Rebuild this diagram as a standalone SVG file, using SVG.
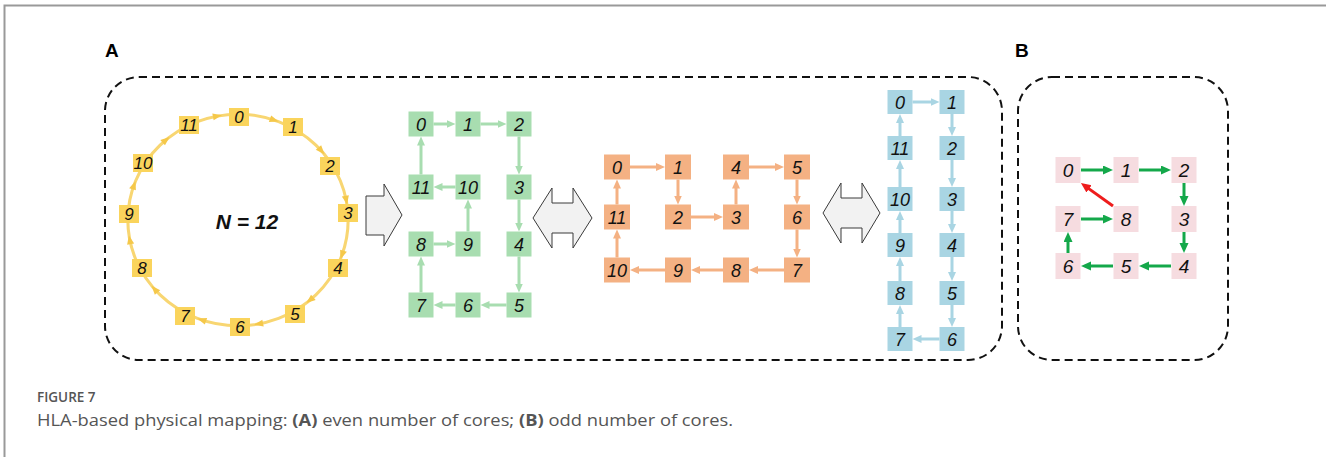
<svg xmlns="http://www.w3.org/2000/svg" width="1326" height="457" viewBox="0 0 1326 457">
  <style>
    .lbl { font-family: "Liberation Sans", Arial, sans-serif; font-style: italic; fill: #111; text-anchor: middle; }
    .ly { font-size: 17px; }
    .lm { font-size: 18px; }
    .lb { font-size: 19px; }
    .ny { fill: #FAD45C; }
    .ng { fill: #A8DDB0; }
    .no { fill: #F4B183; }
    .nb { fill: #A9D5E3; }
    .np { fill: #F6DCE0; }
    .cg { stroke: #A8DDB0; stroke-width: 3; fill: none; marker-end: url(#hg); }
    .co { stroke: #F4B183; stroke-width: 3; fill: none; marker-end: url(#ho); }
    .cb { stroke: #A9D5E3; stroke-width: 3; fill: none; marker-end: url(#hb); }
    .cG { stroke: #14A84A; stroke-width: 3; fill: none; marker-end: url(#hG); }
    .cR { stroke: #EE1C1C; stroke-width: 3; fill: none; marker-end: url(#hR); }
    .frame { fill: none; stroke: #111; stroke-width: 2; stroke-dasharray: 8 5; }
    .big { fill: #F2F2F2; stroke: #3A3A3A; stroke-width: 1; }
    .panel { font-family: "Liberation Sans", Arial, sans-serif; font-weight: bold; font-size: 19px; fill: #000; }
    .cap { font-family: "Open Sans", "Liberation Sans", sans-serif; fill: #555; }
  </style>
  <defs>
    <marker id="hg" markerUnits="userSpaceOnUse" markerWidth="10" markerHeight="10" refX="3" refY="4" orient="auto"><path d="M0,0 L9,4 L0,8 z" fill="#A8DDB0"/></marker>
    <marker id="ho" markerUnits="userSpaceOnUse" markerWidth="10" markerHeight="10" refX="3" refY="4" orient="auto"><path d="M0,0 L9,4 L0,8 z" fill="#F4B183"/></marker>
    <marker id="hb" markerUnits="userSpaceOnUse" markerWidth="10" markerHeight="10" refX="3" refY="4" orient="auto"><path d="M0,0 L9,4 L0,8 z" fill="#A9D5E3"/></marker>
    <marker id="hG" markerUnits="userSpaceOnUse" markerWidth="12" markerHeight="12" refX="3" refY="4.5" orient="auto"><path d="M0,0 L10,4.5 L0,9 z" fill="#14A84A"/></marker>
    <marker id="hR" markerUnits="userSpaceOnUse" markerWidth="12" markerHeight="12" refX="3" refY="4.5" orient="auto"><path d="M0,0 L10,4.5 L0,9 z" fill="#EE1C1C"/></marker>
  </defs>

  <rect width="1326" height="457" fill="#fff"/>
  <!-- page rule -->
  <path d="M4.5,457 V5.5 H1326" fill="none" stroke="#999" stroke-width="2"/>

  <!-- panel frames -->
  <text class="panel" x="105" y="57">A</text>
  <text class="panel" x="1015" y="57">B</text>
  <rect class="frame" x="105" y="77" width="897" height="283" rx="34" ry="34"/>
  <rect class="frame" x="1018" y="77" width="210" height="283" rx="34" ry="34"/>

  <!-- transition arrows -->
  <g id="step-arrows">
    <polygon class="big" points="366,196 384,196 384,184 402,215 384,246 384,235 366,235"/>
    <polygon class="big" points="533,218 552,188 552,203 573,203 573,188 592,218 573,248 573,233 552,233 552,248"/>
    <polygon class="big" points="823,213 841,183 841,198 862,198 862,183 880,213 862,243 862,228 841,228 841,243"/>
  </g>

  <!-- connectors -->
  <g id="connectors">
    <g id="ring-links" transform="translate(238,220) scale(1.02,0.98)" fill="#F5C84A">
      <circle r="108" fill="none" stroke="#F8D672" stroke-width="3"/>
      <polygon points="5,0 -4,-3.5 -4,3.5" transform="rotate(19) translate(0,-108)"/>
      <polygon points="5,0 -4,-3.5 -4,3.5" transform="rotate(49) translate(0,-108)"/>
      <polygon points="5,0 -4,-3.5 -4,3.5" transform="rotate(79) translate(0,-108)"/>
      <polygon points="5,0 -4,-3.5 -4,3.5" transform="rotate(109) translate(0,-108)"/>
      <polygon points="5,0 -4,-3.5 -4,3.5" transform="rotate(139) translate(0,-108)"/>
      <polygon points="5,0 -4,-3.5 -4,3.5" transform="rotate(169) translate(0,-108)"/>
      <polygon points="5,0 -4,-3.5 -4,3.5" transform="rotate(199) translate(0,-108)"/>
      <polygon points="5,0 -4,-3.5 -4,3.5" transform="rotate(229) translate(0,-108)"/>
      <polygon points="5,0 -4,-3.5 -4,3.5" transform="rotate(259) translate(0,-108)"/>
      <polygon points="5,0 -4,-3.5 -4,3.5" transform="rotate(289) translate(0,-108)"/>
      <polygon points="5,0 -4,-3.5 -4,3.5" transform="rotate(319) translate(0,-108)"/>
      <polygon points="5,0 -4,-3.5 -4,3.5" transform="rotate(349) translate(0,-108)"/>
    </g>
    <g id="grid-links">
      <path class="cg" d="M433.5,124 H449.5"/>
      <path class="cg" d="M480.5,124 H500.5"/>
      <path class="cg" d="M519,136.5 V168.5"/>
      <path class="cg" d="M519,199.5 V225.5"/>
      <path class="cg" d="M519,256.5 V286.5"/>
      <path class="cg" d="M506.5,305 H486.5"/>
      <path class="cg" d="M455.5,305 H439.5"/>
      <path class="cg" d="M421,292.5 V262.5"/>
      <path class="cg" d="M433.5,244 H449.5"/>
      <path class="cg" d="M468,231.5 V205.5"/>
      <path class="cg" d="M455.5,187 H439.5"/>
      <path class="cg" d="M421,174.5 V142.5"/>
    </g>
    <g id="snake-links">
      <path class="co" d="M630,167 H659"/>
      <path class="co" d="M678,179.5 V198.5"/>
      <path class="co" d="M691,217 H717"/>
      <path class="co" d="M736,204.5 V185.5"/>
      <path class="co" d="M749,167 H778"/>
      <path class="co" d="M797,179.5 V198.5"/>
      <path class="co" d="M797,229.5 V251.5"/>
      <path class="co" d="M784,270 H755"/>
      <path class="co" d="M723,270 H697"/>
      <path class="co" d="M665,270 H636"/>
      <path class="co" d="M617,257.5 V235.5"/>
      <path class="co" d="M617,204.5 V185.5"/>
    </g>
    <g id="column-links">
      <path class="cb" d="M912.5,102 H933.5"/>
      <path class="cb" d="M952,114 V130"/>
      <path class="cb" d="M952,160 V181"/>
      <path class="cb" d="M952,211 V227"/>
      <path class="cb" d="M952,257 V275"/>
      <path class="cb" d="M952,305 V321"/>
      <path class="cb" d="M939.5,339 H918.5"/>
      <path class="cb" d="M900,327 V311"/>
      <path class="cb" d="M900,281 V263"/>
      <path class="cb" d="M900,233 V217"/>
      <path class="cb" d="M900,187 V166"/>
      <path class="cb" d="M900,136 V120"/>
    </g>
    <g id="odd-links">
      <path class="cG" d="M1081,170 H1106"/>
      <path class="cG" d="M1139,170 H1164"/>
      <path class="cG" d="M1184,183 V199"/>
      <path class="cG" d="M1184,232 V246"/>
      <path class="cG" d="M1171,266 H1146"/>
      <path class="cG" d="M1113,266 H1088"/>
      <path class="cG" d="M1068,253 V239"/>
      <path class="cG" d="M1081,219 H1106"/>
      <path class="cR" d="M1113,206 L1086.6,187.1"/>
    </g>
  </g>

  <!-- ring of 12 cores -->
  <text x="247" y="229" font-family="Liberation Sans, Arial, sans-serif" font-size="21" font-weight="bold" font-style="italic" text-anchor="middle" fill="#111">N = 12</text>
  <g id="ring-0"><rect class="ny" x="229" y="108" width="20" height="18"/><text class="lbl ly" x="239" y="123">0</text></g>
  <g id="ring-1"><rect class="ny" x="283" y="118" width="20" height="18"/><text class="lbl ly" x="293" y="133">1</text></g>
  <g id="ring-2"><rect class="ny" x="320" y="157" width="20" height="18"/><text class="lbl ly" x="330" y="172">2</text></g>
  <g id="ring-3"><rect class="ny" x="338" y="204" width="20" height="18"/><text class="lbl ly" x="348" y="219">3</text></g>
  <g id="ring-4"><rect class="ny" x="328" y="259" width="20" height="18"/><text class="lbl ly" x="338" y="274">4</text></g>
  <g id="ring-5"><rect class="ny" x="285" y="305" width="20" height="18"/><text class="lbl ly" x="295" y="320">5</text></g>
  <g id="ring-6"><rect class="ny" x="230" y="318" width="20" height="18"/><text class="lbl ly" x="240" y="333">6</text></g>
  <g id="ring-7"><rect class="ny" x="175" y="307" width="20" height="18"/><text class="lbl ly" x="185" y="322">7</text></g>
  <g id="ring-8"><rect class="ny" x="132" y="259" width="20" height="18"/><text class="lbl ly" x="142" y="274">8</text></g>
  <g id="ring-9"><rect class="ny" x="119" y="205" width="20" height="18"/><text class="lbl ly" x="129" y="220">9</text></g>
  <g id="ring-10"><rect class="ny" x="133" y="154" width="20" height="18"/><text class="lbl ly" x="143" y="169">10</text></g>
  <g id="ring-11"><rect class="ny" x="179" y="116" width="20" height="18"/><text class="lbl ly" x="189" y="131">11</text></g>

  <!-- 3x4 mesh mapping -->
  <g id="grid-0"><rect class="ng" x="408.5" y="111.5" width="25" height="25"/><text class="lbl lm" x="421" y="130.5">0</text></g>
  <g id="grid-1"><rect class="ng" x="455.5" y="111.5" width="25" height="25"/><text class="lbl lm" x="468" y="130.5">1</text></g>
  <g id="grid-2"><rect class="ng" x="506.5" y="111.5" width="25" height="25"/><text class="lbl lm" x="519" y="130.5">2</text></g>
  <g id="grid-11"><rect class="ng" x="408.5" y="174.5" width="25" height="25"/><text class="lbl lm" x="421" y="193.5">11</text></g>
  <g id="grid-10"><rect class="ng" x="455.5" y="174.5" width="25" height="25"/><text class="lbl lm" x="468" y="193.5">10</text></g>
  <g id="grid-3"><rect class="ng" x="506.5" y="174.5" width="25" height="25"/><text class="lbl lm" x="519" y="193.5">3</text></g>
  <g id="grid-8"><rect class="ng" x="408.5" y="231.5" width="25" height="25"/><text class="lbl lm" x="421" y="250.5">8</text></g>
  <g id="grid-9"><rect class="ng" x="455.5" y="231.5" width="25" height="25"/><text class="lbl lm" x="468" y="250.5">9</text></g>
  <g id="grid-4"><rect class="ng" x="506.5" y="231.5" width="25" height="25"/><text class="lbl lm" x="519" y="250.5">4</text></g>
  <g id="grid-7"><rect class="ng" x="408.5" y="292.5" width="25" height="25"/><text class="lbl lm" x="421" y="311.5">7</text></g>
  <g id="grid-6"><rect class="ng" x="455.5" y="292.5" width="25" height="25"/><text class="lbl lm" x="468" y="311.5">6</text></g>
  <g id="grid-5"><rect class="ng" x="506.5" y="292.5" width="25" height="25"/><text class="lbl lm" x="519" y="311.5">5</text></g>

  <!-- 4x3 snake mapping -->
  <g id="snake-0"><rect class="no" x="604" y="154.5" width="26" height="25"/><text class="lbl lm" x="617" y="173.5">0</text></g>
  <g id="snake-1"><rect class="no" x="665" y="154.5" width="26" height="25"/><text class="lbl lm" x="678" y="173.5">1</text></g>
  <g id="snake-4"><rect class="no" x="723" y="154.5" width="26" height="25"/><text class="lbl lm" x="736" y="173.5">4</text></g>
  <g id="snake-5"><rect class="no" x="784" y="154.5" width="26" height="25"/><text class="lbl lm" x="797" y="173.5">5</text></g>
  <g id="snake-11"><rect class="no" x="604" y="204.5" width="26" height="25"/><text class="lbl lm" x="617" y="223.5">11</text></g>
  <g id="snake-2"><rect class="no" x="665" y="204.5" width="26" height="25"/><text class="lbl lm" x="678" y="223.5">2</text></g>
  <g id="snake-3"><rect class="no" x="723" y="204.5" width="26" height="25"/><text class="lbl lm" x="736" y="223.5">3</text></g>
  <g id="snake-6"><rect class="no" x="784" y="204.5" width="26" height="25"/><text class="lbl lm" x="797" y="223.5">6</text></g>
  <g id="snake-10"><rect class="no" x="604" y="257.5" width="26" height="25"/><text class="lbl lm" x="617" y="276.5">10</text></g>
  <g id="snake-9"><rect class="no" x="665" y="257.5" width="26" height="25"/><text class="lbl lm" x="678" y="276.5">9</text></g>
  <g id="snake-8"><rect class="no" x="723" y="257.5" width="26" height="25"/><text class="lbl lm" x="736" y="276.5">8</text></g>
  <g id="snake-7"><rect class="no" x="784" y="257.5" width="26" height="25"/><text class="lbl lm" x="797" y="276.5">7</text></g>

  <!-- 2x6 column mapping -->
  <g id="col-0"><rect class="nb" x="887.5" y="90" width="25" height="24"/><text class="lbl lm" x="900" y="108.5">0</text></g>
  <g id="col-1"><rect class="nb" x="939.5" y="90" width="25" height="24"/><text class="lbl lm" x="952" y="108.5">1</text></g>
  <g id="col-11"><rect class="nb" x="887.5" y="136" width="25" height="24"/><text class="lbl lm" x="900" y="154.5">11</text></g>
  <g id="col-2"><rect class="nb" x="939.5" y="136" width="25" height="24"/><text class="lbl lm" x="952" y="154.5">2</text></g>
  <g id="col-10"><rect class="nb" x="887.5" y="187" width="25" height="24"/><text class="lbl lm" x="900" y="205.5">10</text></g>
  <g id="col-3"><rect class="nb" x="939.5" y="187" width="25" height="24"/><text class="lbl lm" x="952" y="205.5">3</text></g>
  <g id="col-9"><rect class="nb" x="887.5" y="233" width="25" height="24"/><text class="lbl lm" x="900" y="251.5">9</text></g>
  <g id="col-4"><rect class="nb" x="939.5" y="233" width="25" height="24"/><text class="lbl lm" x="952" y="251.5">4</text></g>
  <g id="col-8"><rect class="nb" x="887.5" y="281" width="25" height="24"/><text class="lbl lm" x="900" y="299.5">8</text></g>
  <g id="col-5"><rect class="nb" x="939.5" y="281" width="25" height="24"/><text class="lbl lm" x="952" y="299.5">5</text></g>
  <g id="col-7"><rect class="nb" x="887.5" y="327" width="25" height="24"/><text class="lbl lm" x="900" y="345.5">7</text></g>
  <g id="col-6"><rect class="nb" x="939.5" y="327" width="25" height="24"/><text class="lbl lm" x="952" y="345.5">6</text></g>

  <!-- odd core count -->
  <g id="odd-0"><rect class="np" x="1055.5" y="157" width="25" height="26"/><text class="lbl lb" x="1068" y="177">0</text></g>
  <g id="odd-1"><rect class="np" x="1113.5" y="157" width="25" height="26"/><text class="lbl lb" x="1126" y="177">1</text></g>
  <g id="odd-2"><rect class="np" x="1171.5" y="157" width="25" height="26"/><text class="lbl lb" x="1184" y="177">2</text></g>
  <g id="odd-7"><rect class="np" x="1055.5" y="206" width="25" height="26"/><text class="lbl lb" x="1068" y="226">7</text></g>
  <g id="odd-8"><rect class="np" x="1113.5" y="206" width="25" height="26"/><text class="lbl lb" x="1126" y="226">8</text></g>
  <g id="odd-3"><rect class="np" x="1171.5" y="206" width="25" height="26"/><text class="lbl lb" x="1184" y="226">3</text></g>
  <g id="odd-6"><rect class="np" x="1055.5" y="253" width="25" height="26"/><text class="lbl lb" x="1068" y="273">6</text></g>
  <g id="odd-5"><rect class="np" x="1113.5" y="253" width="25" height="26"/><text class="lbl lb" x="1126" y="273">5</text></g>
  <g id="odd-4"><rect class="np" x="1171.5" y="253" width="25" height="26"/><text class="lbl lb" x="1184" y="273">4</text></g>

  <!-- caption -->
  <text class="cap" x="37" y="402" font-size="13.5" font-weight="600" fill="#666">FIGURE 7</text>
  <text class="cap" x="37" y="426" font-size="15.5" textLength="696" lengthAdjust="spacingAndGlyphs">HLA-based physical mapping: <tspan font-weight="bold">(A)</tspan> even number of cores; <tspan font-weight="bold">(B)</tspan> odd number of cores.</text>
</svg>
